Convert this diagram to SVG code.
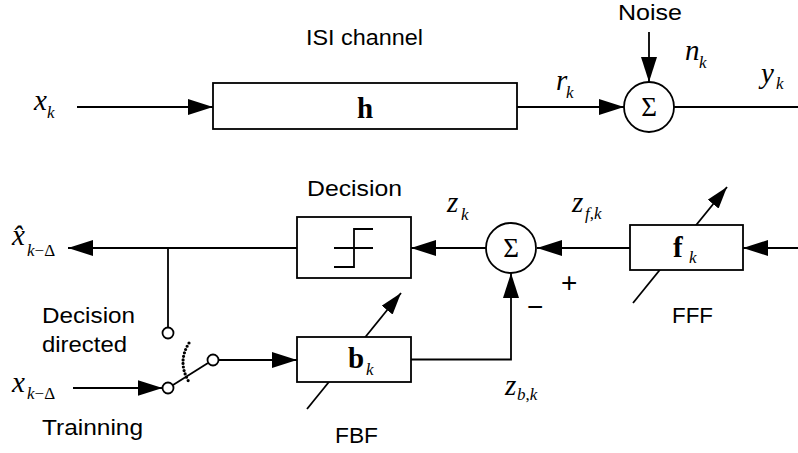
<svg xmlns="http://www.w3.org/2000/svg" width="798" height="453" viewBox="0 0 798 453">
  <style>
    .ln { fill: none; stroke: #000; stroke-width: 1.8; }
    .box { fill: #fff; stroke: #000; stroke-width: 1.8; }
    .lbl { font-family: "Liberation Sans", Arial, sans-serif; font-size: 22px; fill: #000; }
    .mi { font-family: "Liberation Serif", "Times New Roman", serif; font-style: italic; font-size: 29px; fill: #000; }
    .sub { font-family: "Liberation Serif", "Times New Roman", serif; font-style: italic; font-size: 17px; fill: #000; }
    .up { font-style: normal; }
    .bf { font-family: "Liberation Serif", "Times New Roman", serif; font-weight: bold; font-size: 29px; fill: #000; }
    .sig { font-family: "Liberation Serif", "Times New Roman", serif; font-size: 27px; fill: #000; text-anchor: middle; }
    .sign { font-family: "Liberation Sans", Arial, sans-serif; font-size: 28px; fill: #000; }
  </style>
  <defs>
    <marker id="arr" markerUnits="userSpaceOnUse" markerWidth="26" markerHeight="18" refX="25" refY="8" orient="auto">
      <path d="M0,0 L25,8 L0,16 z" fill="#000"/>
    </marker>
    <marker id="arrS" markerUnits="userSpaceOnUse" markerWidth="24" markerHeight="16" refX="22" refY="7" orient="auto">
      <path d="M0,0 L22,7 L0,14 z" fill="#000"/>
    </marker>
  </defs>

  <!-- adaptation arrows (drawn first so the filter boxes hide the middle part) -->
  <g id="adapt">
    <line class="ln" x1="633" y1="303" x2="727" y2="187" marker-end="url(#arrS)"/>
    <line class="ln" x1="307" y1="409" x2="401" y2="293" marker-end="url(#arrS)"/>
  </g>

  <g id="connectors">
    <line class="ln" x1="77" y1="107" x2="213" y2="107" marker-end="url(#arr)"/>
    <line class="ln" x1="517" y1="107" x2="624" y2="107" marker-end="url(#arr)"/>
    <line class="ln" x1="649" y1="32" x2="649" y2="82" marker-end="url(#arr)"/>
    <line class="ln" x1="674" y1="107" x2="798" y2="107"/>
    <line class="ln" x1="297" y1="248" x2="68" y2="248" marker-end="url(#arr)"/>
    <line class="ln" x1="168" y1="248" x2="168" y2="327.5"/>
    <line class="ln" x1="486" y1="248" x2="411" y2="248" marker-end="url(#arr)"/>
    <line class="ln" x1="630" y1="248" x2="537" y2="248" marker-end="url(#arr)"/>
    <line class="ln" x1="798" y1="248" x2="743" y2="248" marker-end="url(#arr)"/>
    <polyline class="ln" points="411,359.5 511,359.5 511,273" marker-end="url(#arr)"/>
    <line class="ln" x1="218.5" y1="360" x2="297" y2="360" marker-end="url(#arr)"/>
    <line class="ln" x1="73" y1="388" x2="162.5" y2="388" marker-end="url(#arr)"/>
  </g>

  <g id="input-x">
    <text class="mi" x="34" y="110">x</text>
    <text class="sub" x="47" y="118">k</text>
  </g>

  <g id="channel">
    <rect class="box" x="213" y="83" width="304" height="46"/>
    <text class="bf" x="365" y="118" text-anchor="middle">h</text>
    <text class="lbl" x="306" y="45" textLength="117" lengthAdjust="spacingAndGlyphs">ISI channel</text>
    <text class="mi" x="556" y="90">r</text>
    <text class="sub" x="566" y="98">k</text>
  </g>

  <g id="noise-sum">
    <circle class="box" cx="649" cy="107" r="25"/>
    <text class="sig" x="649" y="116">Σ</text>
    <text class="lbl" x="618" y="20" textLength="64" lengthAdjust="spacingAndGlyphs">Noise</text>
    <text class="mi" x="685" y="60">n</text>
    <text class="sub" x="699" y="68">k</text>
    <text class="mi" x="761" y="83">y</text>
    <text class="sub" x="776" y="89">k</text>
  </g>

  <g id="decision">
    <rect class="box" x="297" y="217" width="114" height="61"/>
    <polyline class="ln" points="334,267 354,267 354,229 373,229"/>
    <line class="ln" x1="334" y1="248" x2="373" y2="248"/>
    <text class="lbl" x="307" y="196" textLength="95" lengthAdjust="spacingAndGlyphs">Decision</text>
  </g>

  <g id="output">
    <text class="mi" x="12" y="245">x&#x302;</text>
    <text class="sub" x="27" y="256">k<tspan class="up">−Δ</tspan></text>
  </g>

  <g id="sum2">
    <circle class="box" cx="511" cy="248" r="25"/>
    <text class="sig" x="511" y="257">Σ</text>
    <text class="sign" x="561" y="292">+</text>
    <text class="sign" x="527" y="316">−</text>
    <text class="mi" x="447" y="212">z</text>
    <text class="sub" x="461" y="220">k</text>
    <text class="mi" x="572" y="212">z</text>
    <text class="sub" x="585" y="219">f<tspan class="up">,</tspan>k</text>
    <text class="mi" x="505" y="395">z</text>
    <text class="sub" x="517" y="400">b<tspan class="up">,</tspan>k</text>
  </g>

  <g id="fff">
    <rect class="box" x="630" y="225" width="113" height="45"/>
    <text class="bf" x="673" y="257">f</text>
    <text class="sub" x="689" y="263">k</text>
    <text class="lbl" x="672" y="323" textLength="41" lengthAdjust="spacingAndGlyphs">FFF</text>
  </g>

  <g id="fbf">
    <rect class="box" x="297" y="337" width="114" height="45"/>
    <text class="bf" x="348" y="368">b</text>
    <text class="sub" x="366" y="375">k</text>
    <text class="lbl" x="335" y="443" textLength="43" lengthAdjust="spacingAndGlyphs">FBF</text>
  </g>

  <g id="switch">
    <circle class="box" cx="168" cy="333" r="5.5"/>
    <circle class="box" cx="213" cy="360" r="5.5"/>
    <circle class="box" cx="168" cy="388" r="5.5"/>
    <line class="ln" x1="173" y1="385" x2="208" y2="363"/>
    <path d="M189,343 Q177,362 189,382" fill="none" stroke="#000" stroke-width="3.2" stroke-linecap="round" stroke-dasharray="0 3.6"/>
    <text class="lbl" x="42" y="323" textLength="93" lengthAdjust="spacingAndGlyphs">Decision</text>
    <text class="lbl" x="42" y="352" textLength="85" lengthAdjust="spacingAndGlyphs">directed</text>
    <text class="lbl" x="42" y="435" textLength="101" lengthAdjust="spacingAndGlyphs">Trainning</text>
  </g>

  <g id="input-train">
    <text class="mi" x="12" y="392">x</text>
    <text class="sub" x="27" y="399">k<tspan class="up">−Δ</tspan></text>
  </g>
</svg>
